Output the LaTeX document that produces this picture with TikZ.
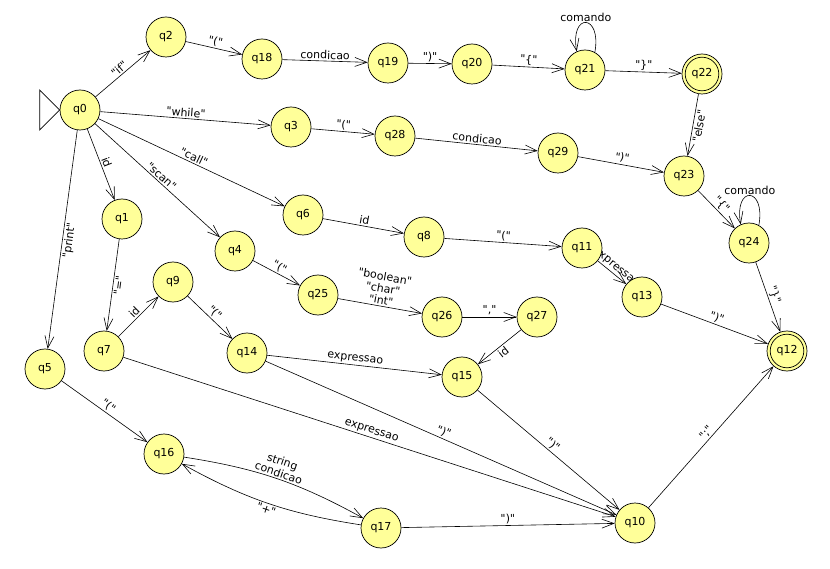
\documentclass[tikz,border=0pt]{standalone}
\usepackage{fontspec}
\setmainfont{DejaVu Sans}[Ligatures=TeXOff]
\usetikzlibrary{arrows.meta}
\pgfdeclarelayer{edges}
\pgfsetlayers{edges,main}
\definecolor{statefill}{RGB}{255,255,153}
\tikzset{
  state/.style={circle, draw=black, line width=0.7pt, fill=statefill,
    minimum size=40pt, inner sep=0pt, font=\fontsize{11}{13}\selectfont},
  accepting/.style={path picture={\draw[line width=0.7pt]
    (path picture bounding box.center) circle (16.8pt);}},
  trans/.style={draw=black, line width=0.6pt,
    -{Straight Barb[length=12pt,width=9pt,line width=0.6pt]}},
  lab/.style={midway, sloped, above, inner sep=1.5pt,
    font=\fontsize{11}{12}\selectfont, align=center},
  labr/.style={midway, sloped, below, inner sep=1.5pt,
    font=\fontsize{11}{12}\selectfont, align=center},
  looplab/.style={pos=0.5, above, inner sep=1pt,
    font=\fontsize{11}{12}\selectfont}
}
\begin{document}
\begin{tikzpicture}[x=1pt,y=-1pt]
\useasboundingbox (0,0) rectangle (830,569);

% states
\node[state] (q0)  at (80,110)  {q0};
\node[state] (q2)  at (166,37)  {q2};
\node[state] (q18) at (262,59)  {q18};
\node[state] (q19) at (388,63)  {q19};
\node[state] (q20) at (472,64)  {q20};
\node[state] (q21) at (585,70)  {q21};
\node[state,accepting] (q22) at (702,74) {q22};
\node[state] (q3)  at (291,127) {q3};
\node[state] (q28) at (395,136) {q28};
\node[state] (q29) at (558,153) {q29};
\node[state] (q23) at (684,176) {q23};
\node[state] (q24) at (749,243) {q24};
\node[state] (q6)  at (303,215) {q6};
\node[state] (q8)  at (424,237) {q8};
\node[state] (q11) at (582,248) {q11};
\node[state] (q13) at (642,297) {q13};
\node[state,accepting] (q12) at (787,351) {q12};
\node[state] (q1)  at (122,219) {q1};
\node[state] (q4)  at (235,251) {q4};
\node[state] (q9)  at (173,282) {q9};
\node[state] (q7)  at (104,351) {q7};
\node[state] (q14) at (247,353) {q14};
\node[state] (q5)  at (45,369)  {q5};
\node[state] (q25) at (318,295) {q25};
\node[state] (q26) at (442,317) {q26};
\node[state] (q27) at (537,317) {q27};
\node[state] (q15) at (462,377) {q15};
\node[state] (q16) at (164,454) {q16};
\node[state] (q17) at (381,528) {q17};
\node[state] (q10) at (635,523) {q10};

\begin{pgfonlayer}{edges}
% initial marker
\draw[line width=0.7pt] (q0.west) -- ++(-20,-20) -- ++(0,40) -- cycle;

% if
\draw[trans] (q0) -- node[lab] {"if"} (q2);
\draw[trans] (q2) -- node[lab] {"("} (q18);
\draw[trans] (q18) -- node[lab] {condicao} (q19);
\draw[trans] (q19) -- node[lab] {")"} (q20);
\draw[trans] (q20) -- node[lab] {"\{"} (q21);
\draw[trans] (q21.61) .. controls +(7,-39) and +(-7,-39) .. node[looplab] {comando} (q21.114);
\draw[trans] (q21) -- node[lab] {"\}"} (q22);
\draw[trans] (q22) -- node[labr] {"else"} (q23);

% while
\draw[trans] (q0) -- node[lab] {"while"} (q3);
\draw[trans] (q3) -- node[lab] {"("} (q28);
\draw[trans] (q28) -- node[lab] {condicao} (q29);
\draw[trans] (q29) -- node[lab] {")"} (q23);
\draw[trans] (q23) -- node[lab] {"\{"} (q24);
\draw[trans] (q24.61) .. controls +(7,-39) and +(-7,-39) .. node[looplab] {comando} (q24.114);
\draw[trans] (q24) -- node[lab] {"\}"} (q12);

% call
\draw[trans] (q0) -- node[lab] {"call"} (q6);
\draw[trans] (q6) -- node[lab] {id} (q8);
\draw[trans] (q8) -- node[lab] {"("} (q11);
\draw[trans] (q11) -- node[lab] {expressao} (q13);
\draw[trans] (q13) -- node[lab] {")"} (q12);

% assignment
\draw[trans] (q0) -- node[lab] {id} (q1);
\draw[trans] (q1) -- node[labr] {"="} (q7);
\draw[trans] (q7) -- node[lab] {id} (q9);
\draw[trans] (q9) -- node[lab] {"("} (q14);
\draw[trans] (q14) -- node[lab] {expressao} (q15);
\draw[trans] (q14) -- node[lab] {")"} (q10);
\draw[trans] (q7) -- node[lab] {expressao} (q10);

% scan
\draw[trans] (q0) -- node[lab] {"scan"} (q4);
\draw[trans] (q4) -- node[lab] {"("} (q25);
\draw[trans] (q25) -- node[lab] {"boolean"\\"char"\\"int"} (q26);
\draw[trans] (q26) -- node[lab] {","} (q27);
\draw[trans] (q27) -- node[labr] {id} (q15);
\draw[trans] (q15) -- node[lab] {")"} (q10);

% print
\draw[trans] (q0) -- node[labr] {"print"} (q5);
\draw[trans] (q5) -- node[lab] {"("} (q16);
\draw[trans] (q16) to[bend left=10] node[lab] {string\\condicao} (q17);
\draw[trans] (q17) to[bend left=10] node[labr] {"+"} (q16);
\draw[trans] (q17) -- node[lab] {")"} (q10);

% end of statement
\draw[trans] (q10) -- node[lab] {";"} (q12);
\end{pgfonlayer}
\end{tikzpicture}
\end{document}
